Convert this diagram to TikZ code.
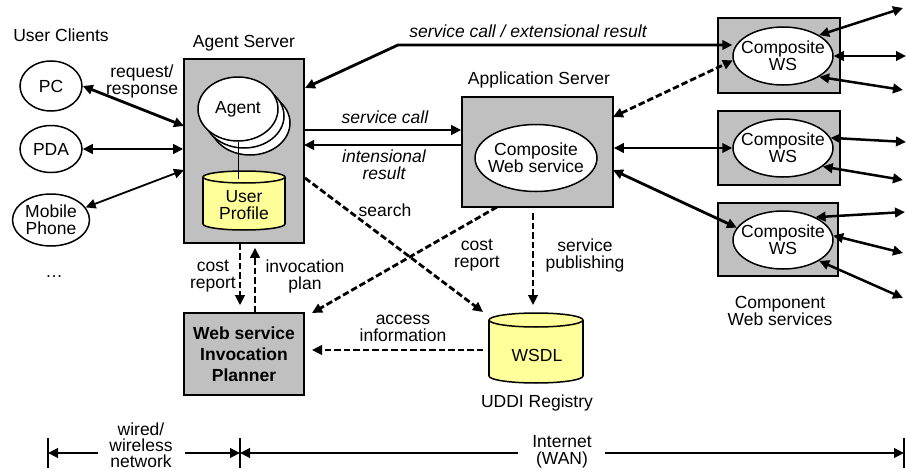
\documentclass[tikz,border=0pt]{standalone}
\usepackage{fontspec}
\setmainfont{Liberation Sans}
\usetikzlibrary{arrows.meta,shapes.geometric}
\definecolor{boxgray}{RGB}{192,192,192}
\definecolor{dbyellow}{RGB}{255,255,153}
\tikzset{
  lbl/.style={font=\fontsize{17.5}{17}\selectfont, align=center, inner sep=0pt},
  ilbl/.style={lbl, font=\fontsize{17.5}{17}\selectfont\itshape},
  box/.style={draw, line width=1.6pt, fill=boxgray},
  ell/.style={ellipse, draw, line width=1.5pt, fill=white, inner sep=0pt},
  etxt/.style={label={[lbl]center:#1}},
  conn/.style={line width=2.8pt, >={Triangle[length=10pt,width=9.5pt]}},
  dsh/.style={conn, dash pattern=on 6.5pt off 3pt},
  cyl/.style={fill=dbyellow, line width=1.5pt},
}
\begin{document}
\begin{tikzpicture}[x=1pt,y=-1pt]
\path[use as bounding box, fill=white] (0,0) rectangle (906,471);

% ---- user clients
\node[lbl] (uc) at (61,35) {User Clients};
\node[ell, lbl, minimum width=62pt, minimum height=50pt] (pc) at (51,86) {PC};
\node[ell, lbl, minimum width=62pt, minimum height=47pt] (pda) at (51,149) {PDA};
\node[ell, lbl, minimum width=77pt, minimum height=52pt] (mob) at (51,220) {Mobile\\Phone};
\node[lbl] (more) at (54,277) {…};

% ---- agent server
\node[lbl] (ast) at (244,43) {Agent Server};
\node[box, minimum width=120pt, minimum height=184pt] (as) at (244,151) {};
\node[ell, minimum width=80pt, minimum height=64pt] (ag2) at (250,123) {};
\node[ell, minimum width=80pt, minimum height=64pt] (ag1) at (244,116) {};
\node[ell, lbl, minimum width=80pt, minimum height=64pt] (agent) at (238,109) {Agent};

% user profile store
\filldraw[cyl] (244,224) ellipse [x radius=41, y radius=6];
\fill[dbyellow] (203,177) rectangle (285,224);
\draw[line width=1.5pt] (203,177) -- (203,224) (285,177) -- (285,224);
\filldraw[cyl] (244,177) ellipse [x radius=41, y radius=6];
\coordinate (proftop) at (240,179);
\draw[line width=1pt] (agent.south) -- (agent.south |- proftop);
\node[lbl] (prof) at (244,205) {User\\Profile};

% ---- client connectors
\node[lbl] (rr) at (142,81) {request/\\response};
\coordinate (asPC) at (184,126);
\coordinate (asMob) at (184,170);
\draw[conn, <->] (pc.east) -- (asPC);
\draw[conn, <->] (pda.east) -- (pda.east -| as.west);
\draw[conn, <->, line width=1.8pt] (mob.20) -- (asMob);

% ---- component web services
\node[box, minimum width=122pt, minimum height=75pt] (cb1) at (779,55.5) {};
\node[ell, minimum width=100pt, minimum height=58pt, etxt={Composite\\WS}] (c1) at (783,56) {};
\node[box, minimum width=122pt, minimum height=74pt] (cb2) at (779,148) {};
\node[ell, minimum width=100pt, minimum height=58pt, etxt={Composite\\WS}] (c2) at (783,148) {};
\node[box, minimum width=120pt, minimum height=73pt] (cb3) at (778,239.5) {};
\node[ell, minimum width=100pt, minimum height=58pt, etxt={Composite\\WS}] (c3) at (783,240) {};
\node[lbl] (cwl) at (780,311) {Component\\Web services};

% ---- application server
\node[lbl] (apt) at (539,80) {Application Server};
\node[box, minimum width=151pt, minimum height=110pt] (app) at (537.5,152) {};
\node[ell, minimum width=122pt, minimum height=67pt, etxt={Composite\\Web service}] (cws) at (536,158) {};

% service call / intensional result
\coordinate (scA) at (304,130);
\coordinate (irA) at (304,145);
\draw[conn, ->] (scA) -- (scA -| app.west);
\draw[conn, ->] (irA -| app.west) -- (irA);
\node[ilbl] (scl) at (385,117) {service call};
\node[ilbl] (irl) at (384,165) {intensional\\result};

% service call / extensional result
\coordinate (exA) at (305,88);
\coordinate (exK) at (398,45);
\draw[conn, <->] (exA) -- (exK) -- (exK -| c1.west);
\node[ilbl] (exl) at (528,31) {service call / extensional result};

% application server to components
\coordinate (apC1) at (613,117);
\coordinate (apC3) at (613,170);
\draw[dsh, <->] (apC1) -- (c1.185);
\draw[conn, <->] (app.east |- c2) -- (c2.west);
\draw[conn, <->] (apC3) -- (c3.165);

% components to further services
\coordinate (r1a) at (903,8);
\coordinate (r1b) at (906,56);
\coordinate (r1c) at (903,90);
\coordinate (r2a) at (906,142);
\coordinate (r2b) at (903,180);
\coordinate (r3a) at (905,212);
\coordinate (r3b) at (903,253);
\coordinate (r3c) at (903,298);
\tikzset{side/.style={conn, <->, line width=2.5pt}}
\draw[side] (c1.30) -- (r1a);
\draw[side] (c1.east) -- (r1b);
\draw[side] (c1.-30) -- (r1c);
\draw[side] (c2.12) -- (r2a);
\draw[side] (c2.-25) -- (r2b);
\draw[side] (c3.35) -- (r3a);
\draw[side] (c3.5) -- (r3b);
\draw[side] (c3.-30) -- (r3c);

% ---- planner
\node[box, lbl, font=\fontsize{17.5}{21}\selectfont\bfseries, minimum width=120pt, minimum height=82pt] (plan) at (244,354) {Web service\\Invocation\\Planner};
\draw[dsh, ->] ([xshift=-4pt]as.south) -- ([xshift=-4pt, yshift=7pt]plan.north);
\draw[dsh, ->] ([xshift=11pt]plan.north) -- ([xshift=11pt, yshift=-4pt]as.south);
\node[lbl] (crl) at (213,276) {cost\\report};
\node[lbl] (ipl) at (305,276) {invocation\\plan};

% ---- UDDI registry
\filldraw[cyl] (536,376) ellipse [x radius=47, y radius=7];
\fill[dbyellow] (489,320) rectangle (583,376);
\draw[line width=1.5pt] (489,320) -- (489,376) (583,320) -- (583,376);
\filldraw[cyl] (536,320) ellipse [x radius=47, y radius=7];
\node[lbl] (wsdl) at (537,355) {WSDL};
\node[lbl] (uddi) at (537,403) {UDDI Registry};

% dashed flows around the registry
\coordinate (srA) at (305,178);
\coordinate (srB) at (483,312);
\draw[dsh, ->] (srA) -- (srB);
\node[lbl] (srl) at (385,210) {search};

\coordinate (caA) at (497,207);
\coordinate (caB) at (312,313);
\draw[dsh, ->] (caA) -- (caB);
\node[lbl] (cal) at (477,255) {cost\\report};

\coordinate (spA) at (533,213);
\coordinate (spB) at (533,305);
\draw[dsh, ->] (spA) -- (spB);
\node[lbl] (spl) at (585,255) {service\\publishing};

\coordinate (aiA) at (483,350);
\coordinate (aiB) at (312,350);
\draw[dsh, ->] (aiA) -- (aiB);
\node[lbl] (ail) at (403,328) {access\\information};

% ---- network scale
\coordinate (bl) at (48,453);
\coordinate (bm) at (240,453);
\coordinate (br) at (904,453);
\draw[line width=2pt] ([yshift=15pt]bl) -- ([yshift=-15pt]bl);
\draw[line width=2pt] ([yshift=15pt]bm) -- ([yshift=-15pt]bm);
\draw[line width=2pt] ([yshift=15pt]br) -- ([yshift=-15pt]br);
\node[lbl, font=\fontsize{17.5}{16}\selectfont] (wn) at (141,445) {wired/\\wireless\\network};
\node[lbl] (inet) at (562,452) {Internet\\(WAN)};
\draw[conn, ->, shorten <=11pt] (wn.west |- bl) -- (bl);
\draw[conn, ->, shorten <=12pt] (wn.east |- bm) -- (bm);
\draw[conn, ->, shorten <=14pt] (inet.west |- bm) -- (bm);
\draw[conn, ->, shorten <=13pt] (inet.east |- br) -- (br);
\end{tikzpicture}
\end{document}
